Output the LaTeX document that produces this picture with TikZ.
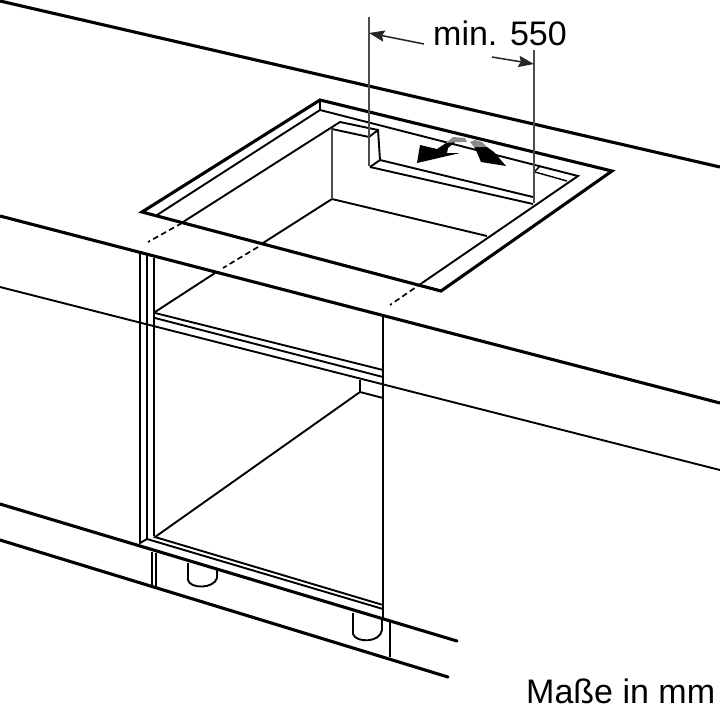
\documentclass[tikz,border=0pt]{standalone}
\usepackage{fontspec}
\setmainfont{Liberation Sans}
\usetikzlibrary{arrows.meta}
\tikzset{
  heavy/.style={line width=2.2pt},
  medium/.style={line width=1.35pt},
  light/.style={line width=1pt},
  dimline/.style={line width=1.1pt,black!70},
  dimarrow/.style={line width=1.1pt,black!85,-{Stealth[length=11pt,width=8pt,inset=1.5pt]}},
  hidden/.style={line width=1.2pt,dash pattern=on 4pt off 2.5pt},
  label/.style={inner sep=0pt,font=\fontsize{24.2}{24.2}\selectfont}
}
\begin{document}
\begin{tikzpicture}[x=.025cm,y=-.025cm,line join=miter]
\useasboundingbox (0,0) rectangle (720,706);

% worktop
\draw[heavy] (0,1) -- (720,167);
\draw[heavy] (0,216) -- (720,403);
\draw[medium] (0,287) -- (720,470);
\draw[heavy,line cap=round] (0,504) -- (457,641);
\draw[heavy,line cap=round] (0,540) -- (448,677);

% cut-out
\draw[heavy] (142,212) -- (320,100) -- (612,171) -- (441,291) -- cycle;
\draw[medium] (157,215) -- (320,110) -- (578,176) -- (422,283);
\draw[light] (320,100) -- (320,110);
\draw[medium] (183,222) -- (340,122) -- (378,130) -- (380,160);
\draw[medium] (332,129) -- (369,137) -- (378,130);
\draw[medium] (332,199) -- (487,236);
\draw[medium] (332,199) -- (263,243);
\draw[dimline] (332,129) -- (332,199);

% step in the rear edge
\draw[medium] (370,167) -- (380,160);
\draw[medium] (370,167) -- (533,204);
\draw[medium] (380,160) -- (533,197);
\draw[light] (535,171) -- (540,166);
\draw[light] (535,172) -- (567,181);

% hidden edges
\draw[hidden] (182,223) -- (148,242);
\draw[hidden] (258,247) -- (223,268);
\draw[hidden] (422,283) -- (390,305);

% cabinet
\draw[medium] (215,273) -- (155,312);
\draw[medium] (140,253) -- (140,543) -- (147,539);
\draw[medium] (147,255) -- (147,539);
\draw[medium] (154,258) -- (154,536);
\draw[medium] (383,315) -- (383,618);
\draw[medium] (155,313) -- (383,370);
\draw[medium] (155,318) -- (383,377);
\draw[medium] (360,380) -- (360,392) -- (383,398);
\draw[medium] (360,392) -- (155,537) -- (383,605);
\draw[medium] (147,539) -- (383,609);
\draw[medium] (152,552) -- (152,587);
\draw[medium] (156,553) -- (156,587);
\draw[medium] (390,622) -- (390,657);

% feet
\draw[medium] (188,563) -- (188,580) .. controls (190,589) and (214,589) .. (217,578) -- (217,570);
\draw[medium] (353,613) -- (353,634) .. controls (356,643) and (380,643) .. (382,630) -- (382,620);

% turning arrows
\fill (417,163) -- (420,145) -- (437,149) -- (446,143) -- (455,142) -- (448,148) -- (447,153) -- (460,153) -- cycle;
\fill[black!45] (446,143) -- (453,137) -- (465,138) -- (467,142) -- (455,142) -- cycle;
\fill (506,166) -- (481,162) -- (475,148) -- (474,147) -- (487,147) -- (494,152) -- cycle;
\fill[black!45] (470,142) -- (475,140) -- (482,142) -- (487,147) -- (474,147) -- cycle;

% dimension
\coordinate (leftend) at (369,33);
\coordinate (rightend) at (534,64);
\draw[dimline] (369,17) -- (369,166);
\draw[dimline] (534,50) -- (534,203);
\node[label] (minwidth) at (500,33) {min. 550};
\node[label,anchor=base east] (units) at (715.5,703) {Maße in mm};
\coordinate (lefttail) at (424,44);
\coordinate (righttail) at (492,57);
\draw[dimarrow] (lefttail) -- (leftend);
\draw[dimarrow] (righttail) -- (rightend);
\end{tikzpicture}
\end{document}
